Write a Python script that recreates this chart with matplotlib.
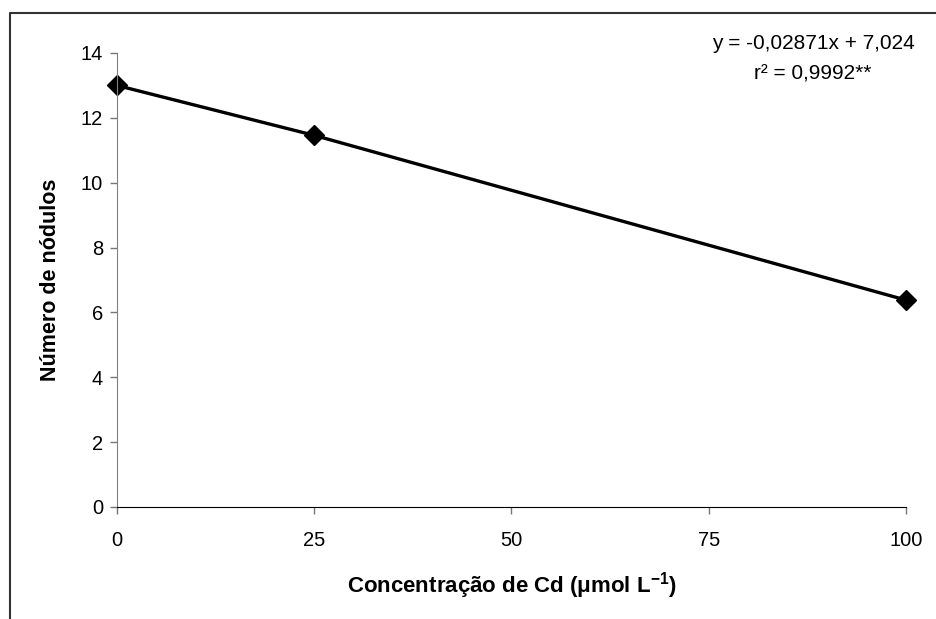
import matplotlib
matplotlib.use('Agg')
import matplotlib.pyplot as plt
from matplotlib.lines import Line2D

plt.rcParams['font.family'] = ['Liberation Sans', 'DejaVu Sans']
plt.rcParams['mathtext.fontset'] = 'custom'
plt.rcParams['mathtext.rm'] = 'Liberation Sans'
plt.rcParams['mathtext.bf'] = 'Liberation Sans:bold'

# Data
cd_conc = [0, 25, 100]
nodulos = [13.0, 11.46, 6.38]
x_ticks = [0, 25, 50, 75, 100]
y_ticks = [0, 2, 4, 6, 8, 10, 12, 14]

fig = plt.figure(figsize=(9.37, 6.19), dpi=100)
ax = fig.add_axes([117/937, 1 - 507/619, (906 - 117)/937, (507 - 53)/619])

ax.plot(cd_conc, nodulos, color='black', lw=2.4, marker='D', ms=10,
        markerfacecolor='black', markeredgecolor='black', clip_on=False)

ax.set_xlim(0, 100)
ax.set_ylim(0, 14)
ax.set_xticks(x_ticks)
ax.set_yticks(y_ticks)
ax.tick_params(direction='out', length=5, width=1, color='#777777',
               labelsize=14.5)
ax.tick_params(axis='x', pad=12)
ax.tick_params(axis='y', pad=5)
ax.spines['top'].set_visible(False)
ax.spines['right'].set_visible(False)
ax.spines['left'].set_color('#808080')
ax.spines['bottom'].set_color('black')

ax.set_xlabel('Concentração de Cd ($\\mathbf{\\mu}$mol L$^{\\mathbf{-1}}$)',
              fontsize=16, fontweight='bold', labelpad=15)
ax.set_ylabel('Número de nódulos', fontsize=15.5, fontweight='bold', labelpad=14)

fig.text(813/937, 1 - 59/619, 'y = -0,02871x + 7,024\nr² = 0,9992**',
         ha='center', va='center', fontsize=15, linespacing=1.75,
         multialignment='center')

# Outer frame (left and top edges)
fig.add_artist(Line2D([10/937, 10/937, 1.0], [0.0, 1 - 13/619, 1 - 13/619],
                      transform=fig.transFigure, color='#333333', lw=1.5))

fig.savefig('out.png', dpi=100)
